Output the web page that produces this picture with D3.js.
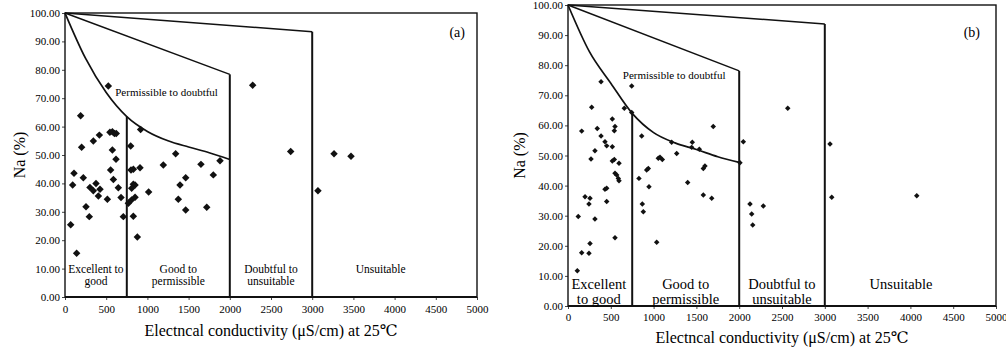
<!DOCTYPE html>
<html>
<head>
<meta charset="utf-8">
<script src="https://cdn.jsdelivr.net/npm/d3@7/dist/d3.min.js"></script>
<style>
    body { margin: 0; background: #fff; }
    svg text { font-family: "Liberation Serif", "Tinos", "Times New Roman", "DejaVu Serif", serif; fill: #000; }
</style>
</head>
<body>
<svg id="chart" width="1006" height="350"></svg>
<script>
// Samples, panel (a): electrical conductivity and Na %
var ecA = [526,190,918,344,417,545,575,600,622,202,575,797,619,109,554,587,222,93,376,303,344,425,405,514,647,680,255,295,69,141,708,801,830,910,829,850,809,769,809,850,829,878,1015,1343,1193,1650,1881,1800,1465,1396,1375,1465,1720,2278,2739,3265,3471,3070];
var naA = [74.3,63.8,59.0,54.9,57.0,58.0,58.2,57.6,57.6,52.7,51.8,53.2,48.5,43.6,44.7,41.4,42.0,39.4,40.0,38.6,37.4,37.9,35.6,34.4,38.5,35.0,31.8,28.3,25.4,15.4,28.3,44.7,45.0,45.5,39.7,39.4,38.3,33.0,34.2,35.1,28.4,21.1,37.0,50.4,46.5,46.7,48.0,43.0,42.0,39.4,34.4,30.6,31.6,74.6,51.2,50.4,49.6,37.4];

// Samples, panel (b)
var ecB = [386,744,277,658,744,518,160,342,549,541,386,861,432,452,518,315,269,518,541,596,549,569,588,596,1055,938,919,829,946,432,452,199,257,245,452,868,880,120,315,549,257,160,245,109,1036,1697,1452,1211,1445,1534,1075,1102,1270,1600,1581,1398,1581,1679,2009,2048,2126,2146,2158,2282,2567,3061,3081,4074];
var naB = [74.5,73.1,66.0,65.7,64.3,62.1,58.1,59.0,59.6,58.2,56.5,56.5,54.6,53.2,52.9,51.6,48.8,48.2,48.7,47.4,44.1,43.5,42.4,41.6,49.1,45.7,45.2,42.4,39.6,38.8,39.1,36.3,35.8,33.9,34.7,33.9,31.3,29.7,28.9,22.7,20.8,17.7,17.5,11.7,21.2,59.6,54.4,54.4,52.7,52.1,49.4,48.7,50.7,46.5,45.7,41.0,36.9,35.8,47.6,54.6,33.9,30.6,26.9,33.2,65.7,53.8,36.1,36.6];

// Wilcox class boundaries
var curveEc = [0,250,500,750,1000,1250,1500,1750,2000];
var curveNaA = [100,84,72,63.5,58.3,55,52.8,50.8,48.4];
var curveNaB = [100,84.5,74,64,57.6,54.2,52,49.6,47.7];
var midEc = [0,2000];
var midNaA = [100,78.4];
var midNaB = [100,78.1];
var topEc = [0,3000];
var topNaA = [100,93.4];
var topNaB = [100,93.7];

// Ticks
var xTicks = [0,500,1000,1500,2000,2500,3000,3500,4000,4500,5000];
var yTicks = [0,10,20,30,40,50,60,70,80,90,100];

var FONT = '"Liberation Serif", "Tinos", "Times New Roman", "DejaVu Serif", serif';
var svg = d3.select("#chart");

function zip(xs, ys) {
    return xs.map(function(v, i) { return [v, ys[i]]; });
}

function drawPanel(p) {
    var x = d3.scaleLinear().domain([0, 5000]).range([p.left, p.right]);
    var y = d3.scaleLinear().domain([0, 100]).range([p.bottom, p.top]);
    var g = svg.append("g").attr("font-family", FONT);

    // axes
    var ya = g.append("g")
        .attr("transform", "translate(" + p.left + ",0)")
        .call(d3.axisLeft(y).tickValues(yTicks).tickFormat(d3.format(".2f")).tickSize(3).tickPadding(2));
    var xa = g.append("g")
        .attr("transform", "translate(0," + p.bottom + ")")
        .call(d3.axisBottom(x).tickValues(xTicks).tickFormat(d3.format("d")).tickSize(3).tickPadding(p.xPad));
    [ya, xa].forEach(function(a) {
        a.attr("font-family", FONT);
        a.select(".domain").remove();
        a.selectAll("text").attr("font-size", 11);
        a.selectAll("line").attr("stroke", "#444");
    });

    // frame
    g.append("rect")
        .attr("x", p.left).attr("y", p.top)
        .attr("width", p.right - p.left).attr("height", p.bottom - p.top)
        .attr("fill", "none").attr("stroke", "#111").attr("stroke-width", 1.4);
    g.append("line")
        .attr("x1", p.left).attr("x2", p.right)
        .attr("y1", p.bottom).attr("y2", p.bottom)
        .attr("stroke", "#111").attr("stroke-width", 2.2);

    // boundaries
    var line = d3.line().x(function(d) { return x(d[0]); }).y(function(d) { return y(d[1]); });
    var curvePts = zip(curveEc, p.curveNa);
    var midPts = zip(midEc, p.midNa);
    var topPts = zip(topEc, p.topNa);
    g.append("path").attr("d", line.curve(d3.curveMonotoneX)(curvePts))
        .attr("fill", "none").attr("stroke", "#111").attr("stroke-width", 1.7);
    line.curve(d3.curveLinear);
    [midPts, topPts].forEach(function(pts) {
        g.append("path").attr("d", line(pts))
            .attr("fill", "none").attr("stroke", "#111").attr("stroke-width", 1.5);
    });
    var verticals = [curvePts[3], midPts[1], topPts[1]];
    verticals.forEach(function(d) {
        g.append("line")
            .attr("x1", x(d[0])).attr("x2", x(d[0]))
            .attr("y1", y(d[1])).attr("y2", y(0))
            .attr("stroke", "#111").attr("stroke-width", 2);
    });

    // points
    var sym = d3.symbol().type(d3.symbolSquare).size(p.markSize);
    g.selectAll(".pt")
        .data(zip(p.ec, p.na))
        .enter().append("path")
        .attr("class", "pt")
        .attr("d", sym)
        .attr("fill", "#111")
        .attr("transform", function(d) {
            return "translate(" + x(d[0]) + "," + y(d[1]) + ") rotate(45)";
        });

    // class labels
    p.labels.forEach(function(l) {
        var t = g.append("text")
            .attr("x", x(l.at))
            .attr("y", l.y)
            .attr("text-anchor", l.anchor || "middle")
            .attr("font-size", l.size);
        l.lines.forEach(function(s, i) {
            t.append("tspan").attr("x", x(l.at)).attr("dy", i === 0 ? 0 : l.size * 1.05).text(s);
        });
    });

    // panel tag
    g.append("text")
        .attr("x", p.tag[0]).attr("y", p.tag[1])
        .attr("text-anchor", "end")
        .attr("font-size", 14)
        .text(p.tagText);

    // axis titles
    g.append("text")
        .attr("x", (p.left + p.right) / 2)
        .attr("y", p.titleY)
        .attr("text-anchor", "middle")
        .attr("font-size", 16)
        .text("Electncal conductivity (\u03bcS/cm) at 25\u2103");
    g.append("text")
        .attr("transform", "translate(" + p.yTitleX + "," + ((p.top + p.bottom) / 2) + ") rotate(-90)")
        .attr("text-anchor", "middle")
        .attr("font-size", 16)
        .text("Na (%)");
}

drawPanel({
    left: 65, right: 477, top: 13, bottom: 297, xPad: 5,
    ec: ecA, na: naA, markSize: 28,
    curveNa: curveNaA, midNa: midNaA, topNa: topNaA,
    tag: [465, 37], tagText: "(a)",
    titleY: 336, yTitleX: 25,
    labels: [
        { at: 375, y: 273, size: 11.5, lines: ["Excellent to", "good"] },
        { at: 1375, y: 273, size: 11.5, lines: ["Good to", "permissible"] },
        { at: 2500, y: 273, size: 11.5, lines: ["Doubtful to", "unsuitable"] },
        { at: 3830, y: 273, size: 11.5, lines: ["Unsuitable"] },
        { at: 610, y: 96, size: 11, anchor: "start", lines: ["Permissible to doubtful"] }
    ]
});

drawPanel({
    left: 568, right: 996, top: 5, bottom: 306, xPad: 4,
    ec: ecB, na: naB, markSize: 15,
    curveNa: curveNaB, midNa: midNaB, topNa: topNaB,
    tag: [980, 37], tagText: "(b)",
    titleY: 343, yTitleX: 525,
    labels: [
        { at: 360, y: 288.5, size: 14.5, lines: ["Excellent", "to good"] },
        { at: 1375, y: 288.5, size: 14.5, lines: ["Good to", "permissible"] },
        { at: 2500, y: 288.5, size: 14.5, lines: ["Doubtful to", "unsuitable"] },
        { at: 3890, y: 288.5, size: 14.5, lines: ["Unsuitable"] },
        { at: 640, y: 79, size: 11, anchor: "start", lines: ["Permissible to doubtful"] }
    ]
});
</script>
</body>
</html>
